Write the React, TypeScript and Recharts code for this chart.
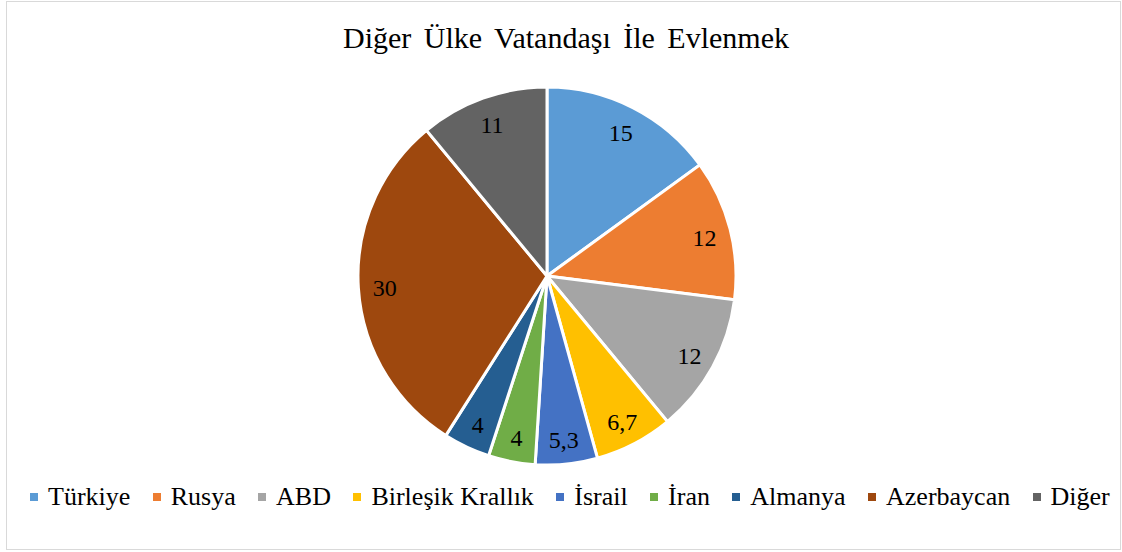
import { Cell, Legend, Pie, PieChart } from "recharts";

const countries = [
    "Türkiye",
    "Rusya",
    "ABD",
    "Birleşik Krallık",
    "İsrail",
    "İran",
    "Almanya",
    "Azerbaycan",
    "Diğer",
];
const shares = [15, 12, 12, 6.7, 5.3, 4, 4, 30, 11];
const colors = [
    "#5B9BD5",
    "#ED7D31",
    "#A5A5A5",
    "#FFC000",
    "#4472C4",
    "#70AD47",
    "#255E91",
    "#9E480E",
    "#636363",
];

const data = countries.map((name, i) => ({ name, value: shares[i] }));

const FONT = "Liberation Serif";
const RAD = Math.PI / 180;

function renderLabel(props: any) {
    const { cx, cy, midAngle, outerRadius, value } = props;
    const r = outerRadius * 0.86;
    const x = cx + r * Math.cos(-midAngle * RAD);
    const y = cy + r * Math.sin(-midAngle * RAD) + 2;
    return (
        <text
            x={x}
            y={y}
            textAnchor="middle"
            dominantBaseline="central"
            fill="#000"
            style={{ fontFamily: FONT, fontSize: 24 }}
        >
            {String(value).replace(".", ",")}
        </text>
    );
}

function renderLegend() {
    return (
        <div
            style={{
                display: "flex",
                justifyContent: "flex-start",
                alignItems: "center",
                paddingLeft: 30,
                height: 30,
                lineHeight: "30px",
                fontFamily: FONT,
                fontSize: 26,
                color: "#000",
                whiteSpace: "nowrap",
            }}
        >
            {countries.map((name, i) => (
                <span
                    key={name}
                    style={{ display: "flex", alignItems: "center", marginRight: i < countries.length - 1 ? 22.4 : 0 }}
                >
                    <span style={{ width: 8, height: 8, background: colors[i], marginRight: 10 }} />
                    {name}
                </span>
            ))}
        </div>
    );
}

export default function App() {
    return (
        <div style={{ position: "absolute", left: 0, top: 0, width: 1122, height: 552, background: "#fff" }}>
            <div
                style={{
                    position: "absolute",
                    left: 6,
                    top: 1,
                    width: 1113,
                    height: 547,
                    border: "1px solid #d9d9d9",
                }}
            />
            <PieChart
                width={1122}
                height={552}
                margin={{ top: 0, right: 0, bottom: 0, left: 0 }}
                style={{ position: "absolute", left: 0, top: 0 }}
            >
                <text
                    x={566}
                    y={48}
                    textAnchor="middle"
                    fill="#000"
                    style={{ fontFamily: FONT, fontSize: 30, wordSpacing: 5 }}
                >
                    Diğer Ülke Vatandaşı İle Evlenmek
                </text>
                <Pie
                    data={data}
                    dataKey="value"
                    nameKey="name"
                    cx={547}
                    cy={276}
                    outerRadius={189}
                    startAngle={90}
                    endAngle={-270}
                    stroke="#fff"
                    strokeWidth={3}
                    label={renderLabel}
                    labelLine={false}
                    isAnimationActive={false}
                >
                    {data.map((d, i) => (
                        <Cell key={d.name} fill={colors[i]} />
                    ))}
                </Pie>
                <Legend
                    content={renderLegend}
                    wrapperStyle={{ left: 0, top: 482, width: 1122, height: 30 }}
                />
            </PieChart>
        </div>
    );
}
